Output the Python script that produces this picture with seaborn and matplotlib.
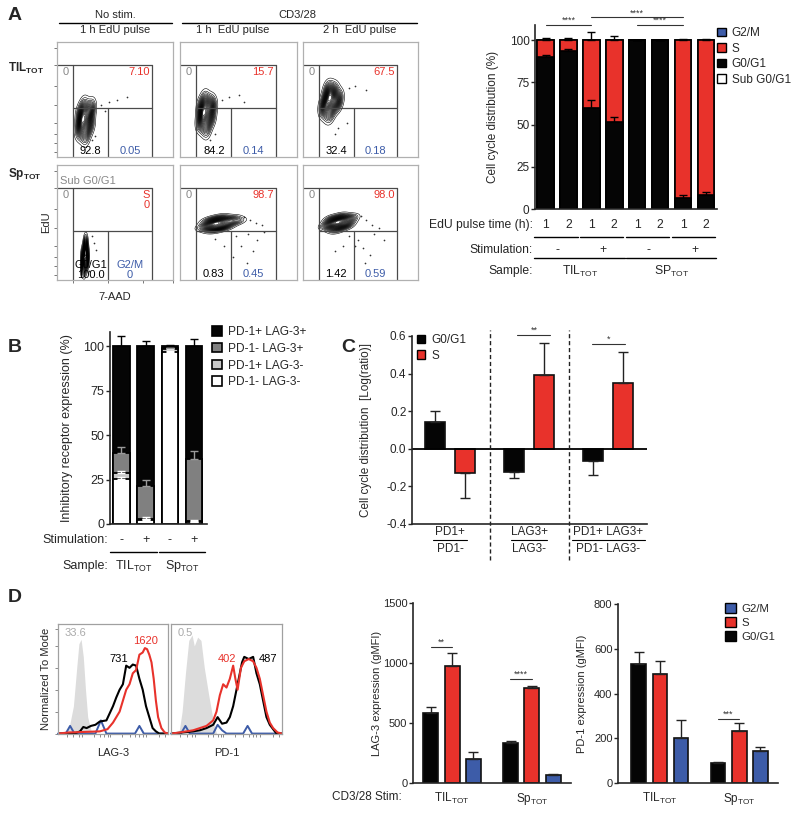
import numpy as np
import pandas as pd
import matplotlib.pyplot as plt
import seaborn as sns
from matplotlib.patches import Patch
from matplotlib.lines import Line2D

sns.set_style('ticks')
plt.rcParams['font.family'] = ['Liberation Sans', 'DejaVu Sans']
plt.rcParams['mathtext.fontset'] = 'custom'
plt.rcParams['mathtext.rm'] = 'Liberation Sans'
plt.rcParams['mathtext.it'] = 'Liberation Sans:italic'
plt.rcParams['mathtext.bf'] = 'Liberation Sans:bold'
plt.rcParams['axes.linewidth'] = 1.2

RED = '#e8322b'
BLUE = '#3d5ca8'
BLACK = '#050505'
DGRAY = '#808080'
LGRAY = '#c8c8c8'
TIL = 'TIL$_{\\mathrm{TOT}}$'
SP = 'Sp$_{\\mathrm{TOT}}$'

# ---------------- data ----------------
# A: flow plots (quadrant %: sub G0/G1, S, G0/G1, G2/M)
flow_quadrants = [['0', '7.10', '92.8', '0.05'], ['0', '15.7', '84.2', '0.14'], ['0', '67.5', '32.4', '0.18'],
                  ['0', '0', '100.0', '0'], ['0', '98.7', '0.83', '0.45'], ['0', '98.0', '1.42', '0.59']]
gate_x = [14, 44, 82]
gate_y = [43, 80]
# event clouds (7-AAD, EdU), rough positions
contour_x = [[19, 21, 23, 25, 27, 29, 20, 22, 24, 26, 28, 23, 25, 30, 21],
             [17, 19, 21, 23, 25, 27, 18, 20, 22, 24, 26, 21, 23, 28, 19],
             [18, 20, 22, 24, 26, 28, 31, 19, 21, 23, 25, 27, 30, 22, 24],
             [22, 23, 24, 25, 26, 23, 24, 25, 22, 26, 24, 25],
             [22, 25, 28, 31, 34, 37, 40, 44, 48, 26, 30, 34, 38, 29, 33],
             [21, 24, 27, 30, 33, 36, 39, 42, 25, 29, 33, 37, 28, 32]]
contour_y = [[24, 30, 36, 40, 34, 28, 38, 22, 30, 26, 40, 44, 18, 42, 32],
             [30, 36, 42, 46, 40, 34, 44, 28, 36, 32, 46, 50, 24, 44, 38],
             [44, 50, 54, 56, 52, 48, 52, 40, 46, 36, 42, 58, 46, 60, 48],
             [12, 18, 24, 30, 20, 14, 10, 26, 22, 16, 32, 20],
             [46, 49, 45, 50, 47, 52, 49, 53, 51, 52, 44, 54, 46, 48, 50],
             [47, 50, 46, 51, 48, 53, 50, 54, 53, 44, 55, 47, 49, 51]]
dots_x = [[38, 45, 52, 60, 33, 30, 41],
          [36, 42, 50, 30, 26, 55],
          [40, 45, 38, 30, 55, 28],
          [30, 32, 28, 34],
          [55, 60, 65, 58, 48, 52, 62, 70, 45, 66, 30, 38, 57, 72],
          [50, 55, 60, 48, 52, 45, 58, 62, 35, 40, 66, 28, 70, 54]]
dots_y = [[45, 48, 50, 52, 18, 15, 40],
          [50, 52, 54, 20, 15, 48],
          [60, 62, 30, 25, 58, 20],
          [38, 32, 8, 26],
          [55, 52, 50, 40, 38, 30, 25, 48, 20, 35, 36, 30, 15, 42],
          [56, 52, 48, 35, 28, 30, 22, 40, 30, 38, 45, 25, 35, 15]]

# A: stacked cell-cycle bars
a_ids = ['T-1', 'T-2', 'T+1', 'T+2', 'S-1', 'S-2', 'S+1', 'S+2']
pulse_time = ['1', '2', '1', '2', '1', '2', '1', '2']
a_sub = [0, 0, 0, 0, 0, 0, 0, 0]
a_g0g1 = [90, 93.5, 60, 51.5, 100, 100, 6.5, 8.5]
a_s = [10, 6.5, 40, 48.5, 0, 0, 93.5, 91.5]
a_g2m = [0, 0, 0, 0, 0, 0, 0, 0]
a_g0g1_err = [1.5, 1.3, 4.5, 3, 0, 0, 1.5, 1.5]
a_top_err = [1.5, 1.5, 5, 2.5, 0, 0, 1, 1]

# B: inhibitory receptor stacked bars
b_ids = ['T-', 'T+', 'S-', 'S+']
stim_b = ['-', '+', '-', '+']
b_nn = [25.5, 2, 97, 1]
b_pn = [3, 1, 1.5, 0.5]
b_np = [11.5, 18.5, 0.5, 35]
b_pp = [60, 78.5, 1, 63.5]
b_nn_err = [1, 0.6, 0.5, 0.3]
b_pn_err = [1.5, 1, 0.5, 0.5]
b_np_err = [3.5, 3.5, 0, 4.5]
b_pp_err = [6, 3, 0.5, 4]

# C: log ratios
c_groups = ['PD1', 'LAG3', 'PD1 LAG3']
c_num = ['PD1+', 'LAG3+', 'PD1+ LAG3+']
c_den = ['PD1-', 'LAG3-', 'PD1- LAG3-']
c_g0g1 = [0.145, -0.125, -0.065]
c_s = [-0.13, 0.395, 0.35]
c_g0g1_err = [0.055, 0.03, 0.075]
c_s_err = [0.13, 0.17, 0.165]

# D: histograms (fraction of axis, normalized to mode)
lag_iso_x = [0.05, 0.10, 0.14, 0.17, 0.19, 0.21, 0.23, 0.25, 0.27, 0.30, 0.33]
lag_iso_y = [0, 0.05, 0.25, 0.6, 0.82, 0.86, 0.7, 0.4, 0.15, 0.03, 0]
lag_g0_x = [0.0, 0.15, 0.20, 0.23, 0.26, 0.30, 0.34, 0.38, 0.44, 0.50, 0.53, 0.56, 0.59, 0.62, 0.65, 0.68, 0.71, 0.74, 0.77, 0.80, 0.83, 0.86, 0.89, 0.92, 1.0]
lag_g0_y = [0, 0, 0.02, 0.06, 0.05, 0.07, 0.08, 0.11, 0.12, 0.25, 0.33, 0.4, 0.45, 0.62, 0.6, 0.63, 0.62, 0.5, 0.4, 0.25, 0.15, 0.05, 0.02, 0, 0]
lag_s_x = [0.0, 0.10, 0.38, 0.45, 0.50, 0.53, 0.56, 0.59, 0.62, 0.65, 0.68, 0.71, 0.74, 0.77, 0.79, 0.81, 0.83, 0.85, 0.87, 0.89, 0.91, 0.94, 0.97, 1.0]
lag_s_y = [0, 0.01, 0.02, 0.04, 0.1, 0.15, 0.2, 0.3, 0.4, 0.45, 0.55, 0.58, 0.72, 0.74, 0.78, 0.77, 0.72, 0.65, 0.5, 0.3, 0.15, 0.05, 0.01, 0]
lag_g2_x = [0.0, 0.07, 0.11, 0.15, 0.34, 0.39, 0.44, 0.70, 0.74, 0.78, 1.0]
lag_g2_y = [0, 0, 0.07, 0, 0, 0.12, 0, 0, 0.07, 0, 0]
pd1_iso_x = [0.07, 0.10, 0.13, 0.16, 0.19, 0.21, 0.24, 0.27, 0.30, 0.34, 0.38, 0.41]
pd1_iso_y = [0, 0.2, 0.55, 0.85, 0.9, 0.8, 0.88, 0.85, 0.6, 0.35, 0.12, 0]
pd1_g0_x = [0.0, 0.20, 0.26, 0.32, 0.38, 0.42, 0.46, 0.50, 0.53, 0.56, 0.59, 0.62, 0.64, 0.66, 0.70, 0.74, 0.77, 0.80, 0.83, 0.86, 0.89, 0.95, 1.0]
pd1_g0_y = [0, 0.02, 0.03, 0.05, 0.08, 0.15, 0.09, 0.1, 0.15, 0.25, 0.4, 0.55, 0.65, 0.7, 0.68, 0.7, 0.55, 0.45, 0.3, 0.15, 0.08, 0, 0]
pd1_s_x = [0.0, 0.08, 0.20, 0.32, 0.38, 0.41, 0.44, 0.47, 0.50, 0.53, 0.56, 0.58, 0.60, 0.63, 0.66, 0.70, 0.74, 0.77, 0.80, 0.83, 0.86, 0.89, 0.92, 0.96, 1.0]
pd1_s_y = [0, 0.01, 0.03, 0.07, 0.12, 0.2, 0.35, 0.45, 0.42, 0.5, 0.62, 0.5, 0.4, 0.6, 0.66, 0.68, 0.66, 0.6, 0.5, 0.35, 0.2, 0.1, 0.05, 0.01, 0]
pd1_g2_x = [0.0, 0.09, 0.13, 0.17, 0.38, 0.42, 0.46, 0.50, 0.65, 0.69, 0.73, 1.0]
pd1_g2_y = [0, 0, 0.07, 0, 0, 0.08, 0.03, 0, 0, 0.07, 0, 0]

# D: gMFI bars
d_samples = [TIL, SP]
phases = ['G0/G1', 'S', 'G2/M']
lag3_mfi = {'G0/G1': [583, 333], 'S': [975, 792], 'G2/M': [200, 67]}
lag3_err = {'G0/G1': [50, 17], 'S': [108, 16], 'G2/M': [58, 8]}
pd1_mfi = {'G0/G1': [532, 89], 'S': [487, 232], 'G2/M': [201, 143]}
pd1_err = {'G0/G1': [54, 5], 'S': [58, 36], 'G2/M': [81, 18]}

# ---------------- figure ----------------
W, H = 800, 815
fig = plt.figure(figsize=(W / 100, H / 100), dpi=100)


def box(x0, y0, x1, y1):
    return fig.add_axes([x0 / W, 1 - y1 / H, (x1 - x0) / W, (y1 - y0) / H])


def ftext(px, py, s, **kw):
    fig.text(px / W, 1 - py / H, s, **kw)


def yfrac(ax, py):
    b = ax.get_position()
    return ((1 - py / H) - b.y0) / b.height


def xfrac(ax, px):
    b = ax.get_position()
    return (px / W - b.x0) / b.width


def hline_under(ax, x0, x1, py, lw=1.0):
    f = yfrac(ax, py)
    ax.plot([x0, x1], [f, f], color='k', lw=lw, transform=ax.get_xaxis_transform(), clip_on=False)


def text_under(ax, x, py, s, **kw):
    ax.text(x, yfrac(ax, py), s, transform=ax.get_xaxis_transform(), va='center', clip_on=False, **kw)


def sig(ax, x0, x1, y, s, fs=6.5):
    ax.plot([x0, x1], [y, y], color='#333333', lw=0.8, clip_on=False)
    ax.text((x0 + x1) / 2, y, s, ha='center', va='bottom', fontsize=fs, color='#333333', clip_on=False)


def ylab(ax, s, px, fs=8):
    ax.set_ylabel(s, fontsize=fs)
    ax.yaxis.set_label_coords(xfrac(ax, px), 0.5)


# panel letters
for ch, px, py in [('A', 15, 15), ('B', 15, 347), ('C', 348, 347), ('D', 15, 597)]:
    ftext(px, py, ch, fontsize=14, fontweight='bold', ha='center', va='center')

# ---------------- A: flow plots ----------------
flow_boxes = [(57, 42, 173, 157), (180, 42, 297, 157), (303, 42, 418, 157),
              (57, 165, 173, 280), (180, 165, 297, 280), (303, 165, 418, 280)]
GATE = '#4a4a4a'
for i, bx in enumerate(flow_boxes):
    ax = box(*bx)
    sns.kdeplot(x=contour_x[i], y=contour_y[i], ax=ax, levels=26, thresh=0.03,
                color='k', linewidths=0.4, bw_adjust=1.1)
    sns.scatterplot(x=dots_x[i], y=dots_y[i], ax=ax, s=1.5, color='#333333', linewidth=0)
    ax.set_xlim(0, 100)
    ax.set_ylim(0, 100)
    ax.set_xlabel('')
    ax.set_ylabel('')
    ax.set_xticks([])
    ax.set_yticks([])
    for sp in ax.spines.values():
        sp.set_color('#b0b0b0')
        sp.set_linewidth(0.9)
    gx0, gmid, gx1 = gate_x
    gy_mid, gy_top = gate_y
    ax.plot([0, gx1], [gy_top, gy_top], color=GATE, lw=0.9)
    ax.plot([gx0, gx0], [0, gy_top], color=GATE, lw=0.9)
    ax.plot([gx1, gx1], [0, gy_top], color=GATE, lw=0.9)
    ax.plot([gx0, gx1], [gy_mid, gy_mid], color=GATE, lw=0.9)
    ax.plot([gmid, gmid], [0, gy_mid], color=GATE, lw=0.9)
    q = flow_quadrants[i]
    ax.text(5, gy_top - 6, q[0], color='#888888', fontsize=8, va='center')
    if i == 3:
        ax.text(gx1 - 2, gy_top - 6, 'S', color=RED, fontsize=8, ha='right', va='center')
        ax.text(gx1 - 2, gy_top - 15, q[1], color=RED, fontsize=8, ha='right', va='center')
        ax.text(29, 13, 'G0/G1', color='k', fontsize=8, ha='center', va='center')
        ax.text(63, 13, 'G2/M', color=BLUE, fontsize=8, ha='center', va='center')
        ax.text(3, 86, 'Sub G0/G1', color='#888888', fontsize=8, va='center')
        ax.text(29, 4, q[2], color='k', fontsize=8, ha='center', va='center')
        ax.text(63, 4, q[3], color=BLUE, fontsize=8, ha='center', va='center')
    else:
        ax.text(gx1 - 2, gy_top - 6, q[1], color=RED, fontsize=8, ha='right', va='center')
        ax.text(29, 5, q[2], color='k', fontsize=8, ha='center', va='center')
        ax.text(63, 5, q[3], color=BLUE, fontsize=8, ha='center', va='center')
    if i in (0, 3):
        ax.set_yticks([4, 12, 20, 30, 45, 62, 80, 95])
        ax.tick_params(axis='y', length=2.5, width=0.7, color='#777777', labelleft=False)
    if i == 3:
        ax.set_xticks([14, 44, 74, 100])
        ax.tick_params(axis='x', length=2.5, width=0.7, color='#777777', labelbottom=False)
        ax.set_xlabel('7-AAD', fontsize=8, labelpad=6)
        ax.set_ylabel('EdU', fontsize=8, labelpad=2)

ftext(115, 15, 'No stim.', fontsize=8, ha='center', va='center')
ftext(297, 15, 'CD3/28', fontsize=8, ha='center', va='center')
ftext(115, 30, '1 h EdU pulse', fontsize=8, ha='center', va='center')
ftext(233, 30, '1 h  EdU pulse', fontsize=8, ha='center', va='center')
ftext(360, 30, '2 h  EdU pulse', fontsize=8, ha='center', va='center')
fig.add_artist(Line2D([59 / W, 172 / W], [1 - 23 / H] * 2, color='k', lw=1))
fig.add_artist(Line2D([182 / W, 417 / W], [1 - 23 / H] * 2, color='k', lw=1))
ftext(8, 68, '$\\mathbf{TIL_{TOT}}$', fontsize=8.5, va='center')
ftext(8, 174, '$\\mathbf{Sp_{TOT}}$', fontsize=8.5, va='center')

# ---------------- A: stacked bars ----------------
ax = box(535, 25, 717, 209)
layers = [(a_sub, 'white'), (a_g0g1, BLACK), (a_s, RED), (a_g2m, BLUE)]
cum = np.cumsum([l[0] for l in layers], axis=0)
for k in range(len(layers) - 1, -1, -1):
    sns.barplot(x=a_ids, y=cum[k], order=a_ids, color=layers[k][1], saturation=1,
                edgecolor='k', linewidth=1.2, width=0.72, ax=ax, errorbar=None)
xa = np.arange(len(a_ids))
ax.errorbar(xa, cum[1], yerr=[np.zeros(8), a_g0g1_err], fmt='none', ecolor='k', elinewidth=1, capsize=3)
ax.errorbar(xa, cum[3], yerr=[np.zeros(8), a_top_err], fmt='none', ecolor='k', elinewidth=1, capsize=3)
ax.set_ylim(0, 109)
ax.set_xlim(-0.46, 7.48)
ax.set_yticks([0, 25, 50, 75, 100])
ax.tick_params(axis='y', labelsize=8.5, length=3, width=1, pad=1)
ax.set_xticks([])
sns.despine(ax=ax)
ylab(ax, 'Cell cycle distribution (%)', 499, fs=8.5)
sig(ax, 0, 2, 108.9, '****')
sig(ax, 2, 6, 113.6, '****')
sig(ax, 4, 6, 108.9, '****')
FA = 8.7
text_under(ax, -0.55, 225, 'EdU pulse time (h):', fontsize=FA, ha='right')
for i, t in enumerate(pulse_time):
    text_under(ax, i, 225, t, fontsize=FA, ha='center')
for k in range(4):
    hline_under(ax, 2 * k - 0.5, 2 * k + 1.4, 237)
text_under(ax, -0.55, 250, 'Stimulation:', fontsize=FA, ha='right')
for k, s in enumerate(['-', '+', '-', '+']):
    text_under(ax, 2 * k + 0.5, 250, s, fontsize=FA, ha='center')
for k in range(2):
    hline_under(ax, 4 * k - 0.5, 4 * k + 3.45, 258)
text_under(ax, -0.55, 271, 'Sample:', fontsize=FA, ha='right')
text_under(ax, 1.5, 271, TIL, fontsize=FA, ha='center')
text_under(ax, 5.5, 271, 'SP$_{\\mathrm{TOT}}$', fontsize=FA, ha='center')
ax.legend(handles=[Patch(facecolor=c, edgecolor='k', lw=1) for c in [BLUE, RED, BLACK, 'white']],
          labels=['G2/M', 'S', 'G0/G1', 'Sub G0/G1'], loc='upper left',
          bbox_to_anchor=(717 / W, 1 - 27 / H), bbox_transform=fig.transFigure, frameon=False,
          fontsize=8.5, handlelength=0.75, handleheight=0.75, handletextpad=0.5,
          labelspacing=0.3, borderaxespad=0, borderpad=0)

# ---------------- B ----------------
ax = box(110, 332, 207, 524)
blayers = [(b_nn, 'white', b_nn_err, 'white'), (b_pn, LGRAY, b_pn_err, 'white'),
           (b_np, DGRAY, b_np_err, '#9a9a9a'), (b_pp, BLACK, b_pp_err, 'k')]
bcum = np.cumsum([l[0] for l in blayers], axis=0)
for k in range(len(blayers) - 1, -1, -1):
    sns.barplot(x=b_ids, y=bcum[k], order=b_ids, color=blayers[k][1], saturation=1,
                edgecolor='k', linewidth=1.3, width=0.68, ax=ax, errorbar=None)
xb = np.arange(4)
for k in range(len(blayers)):
    ax.errorbar(xb, bcum[k], yerr=[np.zeros(4), blayers[k][2]], fmt='none',
                ecolor=blayers[k][3], elinewidth=1, capsize=3)
ax.set_ylim(0, 108)
ax.set_xlim(-0.47, 3.53)
ax.set_yticks([0, 25, 50, 75, 100])
ax.tick_params(axis='y', labelsize=9, length=3, width=1, pad=1)
ax.set_xticks([])
sns.despine(ax=ax)
ylab(ax, 'Inhibitory receptor expression (%)', 73, fs=9)
text_under(ax, -0.55, 540, 'Stimulation:', fontsize=9, ha='right')
for i, s in enumerate(stim_b):
    text_under(ax, i, 540, s, fontsize=9, ha='center')
for k in range(2):
    hline_under(ax, 2 * k - 0.45, 2 * k + 1.45, 552)
text_under(ax, -0.55, 566, 'Sample:', fontsize=9, ha='right')
text_under(ax, 0.5, 566, TIL, fontsize=9, ha='center')
text_under(ax, 2.5, 566, SP, fontsize=9, ha='center')
ax.legend(handles=[Patch(facecolor=c, edgecolor='k', lw=1.2) for c in [BLACK, DGRAY, LGRAY, 'white']],
          labels=['PD-1+ LAG-3+', 'PD-1- LAG-3+', 'PD-1+ LAG-3-', 'PD-1- LAG-3-'], loc='upper left',
          bbox_to_anchor=(212 / W, 1 - 326 / H), bbox_transform=fig.transFigure, frameon=False,
          fontsize=8.6, handlelength=0.85, handleheight=0.85, handletextpad=0.5,
          labelspacing=0.4, borderaxespad=0, borderpad=0)

# ---------------- C ----------------
ax = box(412, 336, 647, 524)
dfc = pd.DataFrame({'group': c_groups * 2, 'phase': ['G0/G1'] * 3 + ['S'] * 3, 'value': c_g0g1 + c_s})
sns.barplot(data=dfc, x='group', y='value', hue='phase', order=c_groups, hue_order=['G0/G1', 'S'],
            palette={'G0/G1': BLACK, 'S': RED}, saturation=1, width=0.75, gap=0.33,
            edgecolor='#111111', linewidth=1.2, errorbar=None, ax=ax)
for j, (vals, errs) in enumerate([(c_g0g1, c_g0g1_err), (c_s, c_s_err)]):
    xs = np.arange(3) + (j - 0.5) * 0.375
    up = [e if v > 0 else 0 for v, e in zip(vals, errs)]
    dn = [e if v < 0 else 0 for v, e in zip(vals, errs)]
    ax.errorbar(xs, vals, yerr=[dn, up], fmt='none', ecolor='#222222', elinewidth=1, capsize=3.5)
ax.axhline(0, color='k', lw=1.3)
ax.set_ylim(-0.4, 0.6)
ax.set_xlim(-0.48, 2.49)
ax.set_yticks([-0.4, -0.2, 0.0, 0.2, 0.4, 0.6])
ax.set_yticklabels(['-0.4', '-0.2', '0.0', '0.2', '0.4', '0.6'])
ax.tick_params(axis='y', labelsize=8.5, length=3, width=1, pad=1)
ax.set_xticks([])
ax.set_xlabel('')
sns.despine(ax=ax)
ylab(ax, 'Cell cycle distribution  [Log(ratio)]', 372, fs=8.5)
for xv in [0.5, 1.5]:
    ax.axvline(xv, ymin=-0.19, ymax=1.03, color='#222222', lw=1, ls=(0, (3, 2)), clip_on=False)
half_w = [0.21, 0.23, 0.46]
for i in range(3):
    text_under(ax, i, 532, c_num[i], fontsize=8.5, ha='center')
    hline_under(ax, i - half_w[i], i + half_w[i], 540, lw=0.8)
    text_under(ax, i, 549, c_den[i], fontsize=8.5, ha='center')
sig(ax, 0.85, 1.27, 0.605, '**')
sig(ax, 1.8, 2.21, 0.56, '*')
ax.legend(handles=[Patch(facecolor=BLACK, edgecolor='k'), Patch(facecolor=RED, edgecolor='k')],
          labels=['G0/G1', 'S'], loc='upper left',
          bbox_to_anchor=(417 / W, 1 - 334 / H), bbox_transform=fig.transFigure, frameon=False,
          fontsize=8.5, handlelength=0.7, handleheight=0.7, handletextpad=0.5,
          labelspacing=0.3, borderaxespad=0, borderpad=0)

# ---------------- D: histograms ----------------
hist_sets = [
    ('LAG-3', lag_iso_x, lag_iso_y, lag_g0_x, lag_g0_y, lag_s_x, lag_s_y, lag_g2_x, lag_g2_y,
     [('33.6', 0.06, 0.92, '#aaaaaa', 'left'), ('731', 0.55, 0.68, 'k', 'center'), ('1620', 0.8, 0.85, RED, 'center')]),
    ('PD-1', pd1_iso_x, pd1_iso_y, pd1_g0_x, pd1_g0_y, pd1_s_x, pd1_s_y, pd1_g2_x, pd1_g2_y,
     [('0.5', 0.06, 0.92, '#aaaaaa', 'left'), ('402', 0.5, 0.68, RED, 'center'), ('487', 0.87, 0.68, 'k', 'center')]),
]
for k, (name, ix, iy, gx, gy, sx, sy, mx, my, labels) in enumerate(hist_sets):
    ax = box(58, 624, 168, 734) if k == 0 else box(171, 624, 282, 734)
    ax.fill_between(ix, iy, color='#dcdcdc', lw=0)
    sns.lineplot(x=mx, y=my, ax=ax, color=BLUE, lw=1.4, clip_on=False)
    sns.lineplot(x=gx, y=gy, ax=ax, color='k', lw=1.5)
    sns.lineplot(x=sx, y=sy, ax=ax, color=RED, lw=1.5)
    ax.set_xlim(0, 1)
    ax.set_ylim(-0.004, 1)
    for sp in ax.spines.values():
        sp.set_color('#a0a0a0')
        sp.set_linewidth(0.9)
    ax.set_xticks([0.08, 0.14, 0.19, 0.22, 0.33, 0.38, 0.42, 0.45, 0.47, 0.58, 0.65, 0.70, 0.74, 0.77, 0.80, 0.92, 0.97])
    ax.tick_params(axis='x', length=2, width=0.6, color='#777777', labelbottom=False)
    if k == 0:
        ax.set_yticks([0.0, 0.2, 0.4, 0.6, 0.8, 0.95])
        ax.tick_params(axis='y', length=2, width=0.6, color='#777777', labelleft=False)
        ax.set_ylabel('Normalized To Mode', fontsize=8, labelpad=3)
    else:
        ax.set_yticks([])
        ax.set_ylabel('')
    ax.set_xlabel(name, fontsize=8, labelpad=8)
    for s, x, y, c, ha in labels:
        ax.text(x, y, s, color=c, fontsize=8, ha=ha, va='center', transform=ax.transAxes)

# ---------------- D: gMFI bars ----------------
def mfi_bars(ax, vals, errs, ylim, yt):
    dfd = pd.DataFrame({'sample': d_samples * 3, 'phase': np.repeat(phases, 2),
                        'value': sum([vals[p] for p in phases], [])})
    sns.barplot(data=dfd, x='sample', y='value', hue='phase', order=d_samples, hue_order=phases,
                palette={'G0/G1': BLACK, 'S': RED, 'G2/M': BLUE}, saturation=1, width=0.8, gap=0.3,
                edgecolor='#111111', linewidth=1.2, errorbar=None, ax=ax, legend=False)
    for j, p in enumerate(phases):
        xs = np.arange(2) + (j - 1) * 0.8 / 3
        ax.errorbar(xs, vals[p], yerr=[[0, 0], errs[p]], fmt='none', ecolor='#222222', elinewidth=1, capsize=3.5)
    ax.set_ylim(*ylim)
    ax.set_yticks(yt)
    ax.tick_params(axis='y', labelsize=8, length=3, width=1, pad=1)
    ax.tick_params(axis='x', labelsize=8.5, length=0, pad=6)
    ax.set_xlabel('')
    sns.despine(ax=ax)


ax = box(413, 603, 571, 783)
mfi_bars(ax, lag3_mfi, lag3_err, (0, 1500), [0, 500, 1000, 1500])
ax.set_xlim(-0.49, 1.49)
ylab(ax, 'LAG-3 expression (gMFI)', 382)
sig(ax, -0.27, 0.0, 1133, '**')
sig(ax, 0.73, 1.0, 866, '****')
text_under(ax, -0.63, 797, 'CD3/28 Stim:', fontsize=8.5, ha='right')

ax = box(618, 604, 778, 783)
mfi_bars(ax, pd1_mfi, pd1_err, (0, 800), [0, 200, 400, 600, 800])
ax.set_xlim(-0.53, 1.49)
ylab(ax, 'PD-1 expression (gMFI)', 587)
sig(ax, 0.73, 1.0, 286, '***')
ax.legend(handles=[Patch(facecolor=c, edgecolor='k', lw=1) for c in [BLUE, RED, BLACK]],
          labels=['G2/M', 'S', 'G0/G1'], loc='upper left',
          bbox_to_anchor=(725 / W, 1 - 603 / H), bbox_transform=fig.transFigure, frameon=False,
          fontsize=8.2, handlelength=0.95, handleheight=0.95, handletextpad=0.5,
          labelspacing=0.3, borderaxespad=0, borderpad=0)

fig.savefig('out.png', dpi=100)
